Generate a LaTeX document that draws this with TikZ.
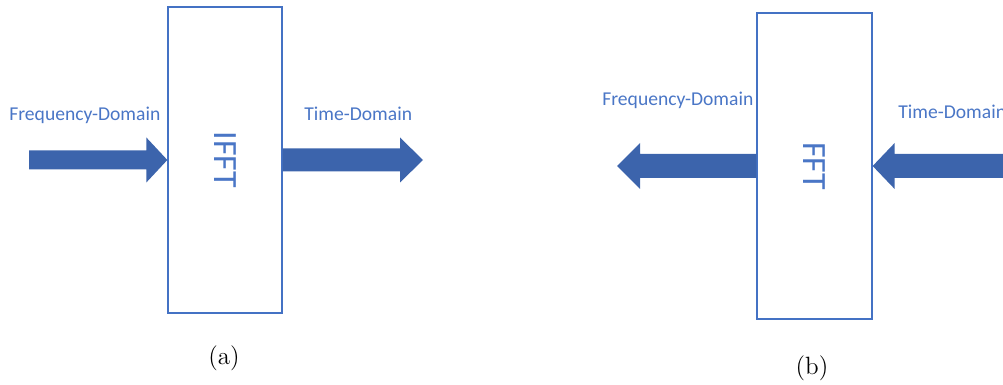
\documentclass[tikz,border=0pt]{standalone}
\usepackage{fontspec}
\newfontfamily\carlito{Carlito}
\usetikzlibrary{calc}
\definecolor{boxblue}{HTML}{4472C4}
\definecolor{arrowblue}{HTML}{3C64AC}
\definecolor{labelblue}{HTML}{4A76C6}

% fat arrow from #1 to #2: shaft half width, head half width, head length
\newcommand{\blockarrow}[5]{%
  \coordinate (hb) at ($(#2)!#5!(#1)$);
  \fill[arrowblue] ($(#1)!#3!90:(#2)$) -- ($(hb)!#3!90:(#2)$) -- ($(hb)!#4!90:(#2)$) -- (#2)
    -- ($(hb)!#4!-90:(#2)$) -- ($(hb)!#3!-90:(#2)$) -- ($(#1)!#3!-90:(#2)$) -- cycle;
}

\begin{document}
\begin{tikzpicture}[
  x=0.5pt,y=-0.5pt,
  block/.style={draw=boxblue,line width=0.65pt,minimum height=153pt,inner sep=0pt,
    font=\carlito\fontsize{17}{17}\selectfont,text=labelblue},
  domaintext/.style={font=\carlito\fontsize{9.8}{11}\selectfont,text=labelblue,inner sep=0pt},
  caption/.style={font=\fontsize{12.5}{15}\selectfont,inner sep=0pt}
]
\clip (0,0) rectangle (1003,385);
% (a) inverse transform
\node[block,minimum width=57pt] (ifft) at (225,160) {\rotatebox{-90}{IFFT}};
\coordinate (ain) at (29,160);
\coordinate (aout) at (423,160);
\blockarrow{ain}{ifft.west}{4.75pt}{11.25pt}{10.5pt}
\blockarrow{ifft.east}{aout}{5.75pt}{11.25pt}{11.5pt}
\node[domaintext,anchor=base west] (afreq) at (9,121) {Frequency-Domain};
\node[domaintext,anchor=base west] (atime) at (304,121) {Time-Domain};
\node[caption] (acap) at (224,358) {(a)};
% (b) forward transform
\node[block,minimum width=57.5pt] (fft) at (814.5,166) {\rotatebox{-90}{FFT}};
\coordinate (bout) at (617,166);
\coordinate (bin) at (1012,166);
\blockarrow{fft.west}{bout}{6pt}{11.5pt}{11.5pt}
\blockarrow{bin}{fft.east}{6pt}{11.5pt}{11pt}
\node[domaintext,anchor=base west] (bfreq) at (602,106) {Frequency-Domain};
\node[domaintext,anchor=base west] (btime) at (898,119) {Time-Domain};
\node[caption] (bcap) at (812,368) {(b)};
\end{tikzpicture}
\end{document}
